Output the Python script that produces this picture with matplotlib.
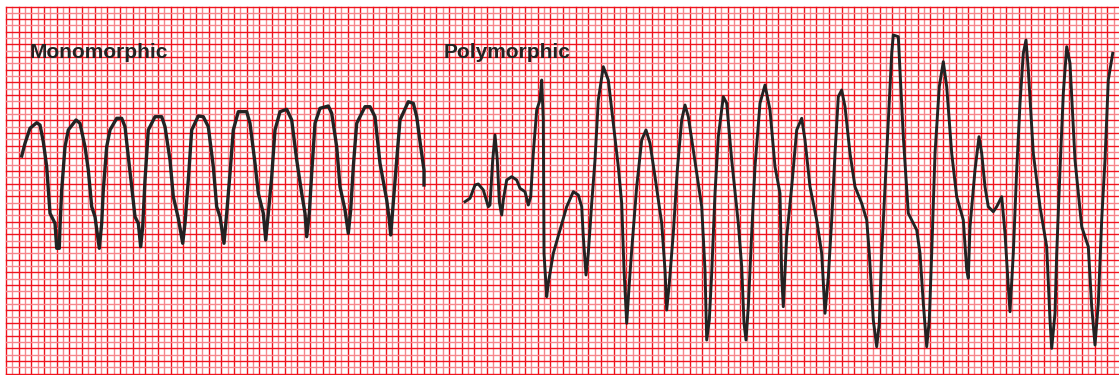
"""ECG strips: monomorphic vs polymorphic ventricular tachycardia."""
import matplotlib.pyplot as plt
import numpy as np

mono_x = [21.7, 25, 30, 36.7, 40, 43.3, 46.7, 50, 55, 56.7, 59.3, 60, 61.7, 65, 68.3,
          76, 80, 85, 88.3, 91.7, 95, 99.3, 101.7, 103.3, 106.7, 110,
          116.7, 121.7, 125, 128.3, 131.7, 135, 138.3, 140.7, 142.7, 145, 148.3,
          155, 161.7, 165, 170, 173.3, 178.3, 182.7, 185, 188.3, 191.7,
          198.3, 203.3, 208.3, 213.3, 216.7, 220, 224, 226.7, 230, 233.3,
          238.3, 246.7, 250, 255, 258.3, 263.3, 265.7, 268.3, 271.7, 275,
          280, 286.7, 291.7, 296.7, 301.7, 305, 306.7, 309.3, 311.7, 315,
          320, 328.3, 331.7, 336.7, 340, 345, 348.3, 350.7, 353.3, 356.7,
          365, 370, 375, 380, 386.7, 389.3, 390.7, 392.7, 396.7, 400,
          408.3, 413.3, 416.7, 420.7, 424, 424]
mono_y = [156, 143.3, 128.3, 122.7, 125, 141.7, 166.7, 213.3, 223.3, 248.3, 248.3, 226.7, 190, 146.7, 130,
          120, 123.3, 146.7, 170, 206.7, 216.7, 248.3, 223.3, 190, 146.7, 130,
          118.3, 118.3, 126.7, 156.7, 186.7, 216.7, 223.3, 246.7, 226.7, 180, 130,
          116.7, 116.7, 126.7, 160, 196.7, 218.3, 243.3, 223.3, 180, 130,
          116, 116.7, 126.7, 166.7, 206.7, 216.7, 243.3, 213.3, 173.3, 130,
          111.7, 111.7, 123.3, 163.3, 193.3, 213.3, 240, 213.3, 176.7, 130,
          111.7, 109.3, 120, 160, 193.3, 213.3, 236.7, 213.3, 173.3, 123.3,
          108.3, 106, 113.3, 146.7, 186.7, 210, 233.3, 210, 166.7, 123.3,
          106.7, 106.7, 116.7, 163.3, 200, 220, 235, 210, 160, 120,
          101.7, 103.3, 116.7, 146.7, 170, 185]

poly_x = [465, 470, 475, 478.3, 483.3, 488.3, 490, 492.7, 495, 497.3, 499.3, 501.7,
          503.3, 506.7, 511.7, 516.7, 520, 525, 528.3, 530.7, 533.3, 536.7, 540,
          541.7, 543.3, 544, 546.7, 548.3, 553.3, 560, 566.7, 573.3, 578.3, 581.7,
          583.3, 586, 588.3, 591.7, 595, 598.3, 603.3, 608.3, 613.3, 618.3, 621.7,
          624, 626.7, 629.3, 631.7, 636.7, 641.7, 646, 650, 655, 661.7, 665,
          666.7, 669.3, 673.3, 677.3, 681.7, 685, 688.3, 693.3, 701.7, 705,
          706.7, 709.3, 711.7, 715, 718.3, 723.3, 726.7, 731.7, 738.3, 741.7,
          744, 746, 748.3, 751.7, 755, 760, 765, 770, 775, 780, 781.7,
          783.3, 786.7, 791.7, 796.7, 801.7, 805, 810, 816.7, 821.7, 825,
          828.3, 831.7, 835, 838.3, 841.7, 845, 850, 855, 861.7, 866.7,
          869.3, 873.3, 876.7, 879.3, 881.7, 885, 888.3, 891.7, 893.3, 898.3,
          900, 903.3, 908.3, 916.7, 920, 923.3, 926.7, 929.3, 931.7, 935,
          939.3, 943.3, 946.7, 951.7, 956.7, 963.3, 966.7, 968.3, 970, 975,
          979, 981.7, 985, 988.3, 993.3, 996.7, 1001.7, 1005, 1008.3, 1010,
          1013.3, 1016.7, 1020, 1023.3, 1026, 1028.3, 1033.3, 1040, 1046.7, 1050,
          1051.7, 1055, 1056.7, 1060, 1063.3, 1066.7, 1070, 1075, 1081.7, 1088.3,
          1091.7, 1095, 1098.3, 1101.7, 1105, 1108.3, 1112.7]
poly_y = [201.7, 198.3, 185, 184, 190, 206.7, 205, 160, 135, 160, 201.7, 215,
          200, 180, 176.7, 180, 188.3, 191.7, 205, 196.7, 153.3, 110, 100,
          80, 120, 253.3, 296.7, 283.3, 253.3, 230, 206.7, 191.7, 195, 206.7,
          236.7, 275, 253.3, 203.3, 160, 100, 66.7, 80, 123.3, 166.7, 203.3,
          270, 323.3, 283.3, 250, 186.7, 140, 130, 143.3, 176.7, 223.3, 270,
          310, 283.3, 233.3, 170, 120, 105, 116.7, 150, 206.7, 270,
          340, 320, 273.3, 193.3, 136.7, 96.7, 103.3, 160, 223.3, 266.7,
          323.3, 340, 306.7, 233.3, 166.7, 103.3, 85, 110, 166.7, 193.3, 276.7,
          306.7, 236.7, 186.7, 130, 118.3, 140, 186.7, 220, 253.3, 313.3,
          276.7, 220, 153.3, 96.7, 90, 106.7, 153.3, 186.7, 203.3, 220,
          253.3, 320, 346.7, 323.3, 253.3, 186.7, 120, 53.3, 35, 36.7,
          70, 136.7, 213.3, 230, 253.3, 303.3, 346.7, 320, 253.3, 153.3,
          86.7, 61.7, 86.7, 153.3, 196.7, 220, 270, 278.3, 226.7, 170,
          136.7, 153.3, 186.7, 206.7, 211.7, 206.7, 196.7, 233.3, 286.7, 311.7,
          253.3, 170, 103.3, 53.3, 40, 70, 153.3, 206.7, 246.7, 320,
          348.3, 313.3, 253.3, 170, 93.3, 46.7, 63.3, 160, 226.7, 246.7,
          306.7, 345, 303.3, 220, 160, 80, 53.3]

labels = ['Monomorphic', 'Polymorphic']
label_x = [30, 444]

W, H = 1119, 375
fig = plt.figure(figsize=(W / 100, H / 100), dpi=100)
ax = fig.add_axes([0, 0, 1, 1])
ax.set_xlim(0, W)
ax.set_ylim(H, 0)
ax.axis('off')

# ECG paper grid
step = 6.33
xs = np.arange(6, W + 1, step)
ys = np.arange(6.5, H + 1, step)
for i, x in enumerate(xs):
    c = '#f0141e' if i % 2 == 0 else '#f6868c'
    ax.plot([x, x], [6.5, H], color=c, lw=1.0, zorder=1)
for i, y in enumerate(ys):
    c = '#f0141e' if i % 2 == 0 else '#f6868c'
    ax.plot([6, W], [y, y], color=c, lw=1.0, zorder=1)

ax.plot(mono_x, mono_y, color='#222222', lw=2.4, zorder=3,
        solid_joinstyle='round')
ax.plot(poly_x, poly_y, color='#222222', lw=2.1, zorder=3,
        solid_joinstyle='round')

for lab, x in zip(labels, label_x):
    ax.text(x, 58.5, lab, fontsize=15, fontweight='bold', color='#222222',
            family='Liberation Sans', ha='left', va='baseline', zorder=4)

fig.savefig('out.png', dpi=100)
